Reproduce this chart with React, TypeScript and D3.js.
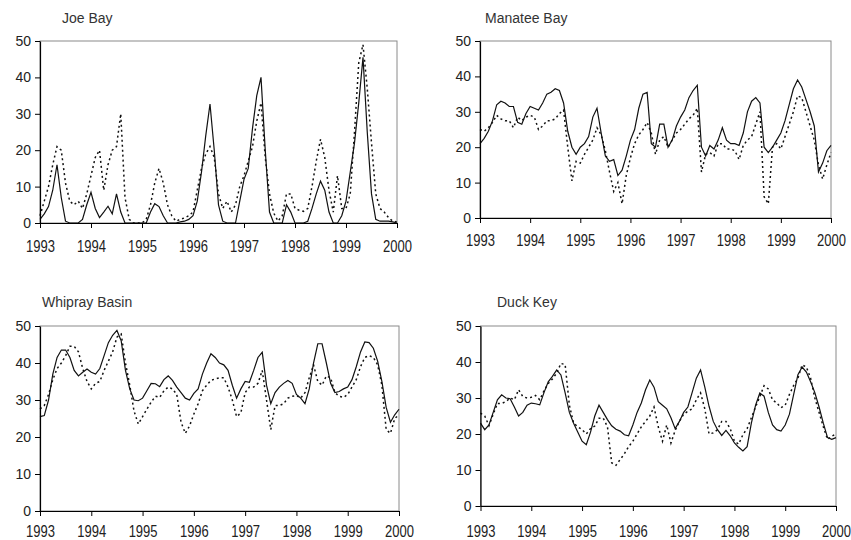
import React, { useEffect, useRef } from 'react';
import * as d3 from 'd3';

// monthly samples, Jan 1993 .. Jan 2000
const months: number[] = d3.range(85).map(i => 1993 + i / 12);
const yearTicks = [1993, 1994, 1995, 1996, 1997, 1998, 1999, 2000];
const valueTicks = [0, 10, 20, 30, 40, 50];

const joeBaySolid = [
  1, 2.5, 4.5, 9, 16, 7, 0.5, 0, 0, 0,
  1, 5, 8.4, 4, 1.5, 3, 4.6, 2.5, 8, 3,
  0, 0, 0, 0, 0, 0, 3, 5.3, 4.5, 2,
  0, 0, 0, 0.3, 0.5, 1, 2, 6, 14, 24,
  32.7, 20, 5, 0.5, 0, 0, 0, 6, 12, 15,
  26, 35, 40, 20, 3, 0, 0, 0, 5, 3,
  0, 0, 0, 0.5, 4, 8, 11.5, 9, 3, 0,
  0, 2, 6, 14, 22, 33, 45.5, 25, 8, 1,
  0.5, 0.5, 0.5, 0.3, 0,
];
const joeBayDotted = [
  2, 6, 10, 16, 21, 20, 11, 6, 5, 6,
  4, 8, 13, 18, 20, 9, 16, 20, 21, 30,
  7, 1, 0, 0, 0, 1, 5, 11, 15, 11,
  5, 2, 0.5, 1, 1.4, 2, 3, 9, 15, 19,
  21, 18, 8, 4, 6, 3, 5, 10, 13, 17,
  21, 28, 33, 18, 8, 2.7, 0.5, 2, 8, 8,
  4, 3.5, 3.2, 4, 10, 17, 23, 18, 9, 3,
  13, 4, 4, 8, 25, 44, 49, 37, 22, 8,
  4, 3, 1.5, 0.5, 0.3,
];

const manateeSolid = [
  21, 22.5, 24.5, 27.5, 32, 33, 32.5, 31.5, 31.5, 27,
  26.5, 29.5, 31.5, 31, 30.5, 32.5, 35, 35.5, 36.5, 36,
  32.5, 24.5, 20, 18, 20, 21, 23, 28.5, 31, 24,
  17.5, 16, 16.5, 12, 13.5, 17.5, 22, 25, 31, 35,
  35.5, 21, 20, 26.5, 26.5, 20, 22, 26, 28.5, 30.5,
  34, 36, 37.5, 20, 17.5, 20.5, 19.5, 22, 25.5, 22,
  21, 21, 20.5, 24, 30, 33, 34, 32.5, 20, 18.5,
  20, 22, 24, 27.5, 32, 36.5, 39, 37, 33.5, 30,
  26, 13, 15.5, 19, 20.5,
];
const manateeDotted = [
  25, 24.5, 25.5, 27, 29, 28, 27.5, 27.5, 25.5, 28.5,
  27.5, 28.5, 29, 28.5, 25, 26, 27.5, 27.5, 28, 29.5,
  30.5, 20, 10.5, 16, 15.5, 18, 20, 22, 25.5, 23.5,
  19, 13, 7.5, 10, 4, 12, 17, 21, 23.5, 25,
  27, 24, 18, 22, 23, 20, 22, 24, 25, 26.5,
  28, 29, 31, 13, 18, 18.5, 17.5, 21, 21, 19.5,
  19.5, 19, 16.5, 20.5, 22, 23, 26.5, 30, 6, 4,
  20, 21, 19.5, 23, 26.5, 30, 34.5, 34, 30, 26,
  22, 15, 11, 15, 18.5,
];

const whipraySolid = [
  25.5, 25.8, 30, 37, 41.5, 43.5, 43.5, 41.5, 38, 36.5,
  37.5, 38.4, 37.5, 37, 38.5, 42, 45.5, 47.5, 48.8, 46,
  38, 33, 30, 29.8, 30.5, 32.5, 34.5, 34.4, 33.6, 35.5,
  36.5, 35.3, 33.5, 32, 30.5, 30, 31.8, 33, 37, 40,
  42.5, 41.5, 40, 39.5, 38, 34, 30.5, 33, 35, 34.8,
  38, 41.5, 42.9, 34, 29, 32, 33.5, 34.5, 35.3, 34.5,
  31.5, 30.5, 29, 33, 40, 45.2, 45.2, 40, 34.5, 32,
  32.3, 33, 33.5, 35.5, 39, 43, 45.7, 45.5, 44, 40.5,
  35, 28, 24, 26, 27.5,
];
const whiprayDotted = [
  27.6, 28.5, 31.5, 35.5, 38.5, 40, 42, 44.5, 44.5, 43,
  38.5, 35, 33, 34.5, 35, 38, 40.5, 43, 47, 47.8,
  40, 34, 27, 23.5, 25.5, 27.5, 29.4, 31, 30.7, 32.5,
  33.5, 33, 31.5, 24, 21, 23, 26.2, 29, 32.5, 34,
  35.3, 35.7, 36, 36, 33.5, 30, 25.5, 26.5, 32, 33.5,
  33.5, 34.5, 38, 30, 22, 28.5, 28.5, 29, 30.5, 31,
  31.2, 30.5, 32, 36, 39.5, 35, 34, 36.5, 36, 32,
  31, 30.7, 31.5, 33.5, 35.5, 39, 41.5, 42, 41.5, 39.5,
  34, 22, 21, 25, 26,
];

const duckKeySolid = [
  23, 21.2, 22.5, 26, 29.5, 30.9, 30, 29.8, 27.5, 25,
  26, 28, 28.6, 28.4, 28.1, 31.5, 34.5, 36, 37.8, 36.4,
  31.4, 26, 23, 20.5, 18, 17, 20.5, 25, 28, 26,
  24, 22.3, 21.3, 20.8, 19.8, 19.5, 22.5, 26, 28.6, 32.3,
  35, 33, 29, 28, 27, 24.5, 21.5, 23.5, 26, 27.5,
  31.5, 35.5, 37.8, 33, 27.7, 23.5, 21.2, 19.6, 21, 19.5,
  17.5, 16.3, 15.3, 16.5, 23, 28, 31.4, 30.5, 26, 22.5,
  21.2, 20.8, 22.5, 25.5, 31, 36.5, 38.6, 37.2, 34.5, 31.5,
  27.5, 23, 19, 18.5, 19,
];
const duckKeyDotted = [
  25.8, 25, 22.3, 25.5, 28.5, 28.5, 29, 30, 29.5, 32.3,
  30.4, 30, 30.2, 30.7, 29.5, 32, 34, 35.3, 36.9, 39.6,
  39.3, 28, 23, 22, 21.2, 20, 21.5, 22.2, 24.4, 24.4,
  22, 12, 11.3, 12.9, 14.5, 16.5, 18, 20, 22, 23.5,
  25, 27.5, 22, 18, 22.5, 17.5, 21, 23.5, 25.5, 26.3,
  27, 29.5, 31.4, 27, 20, 20.3, 21.2, 23.5, 23.5, 21.5,
  18, 17.2, 19.8, 21.5, 24.5, 27.5, 30.4, 33.4, 32.5, 29.5,
  28.6, 27.3, 28, 31, 33.5, 35.5, 39.2, 38.6, 35.5, 30,
  26, 22, 18.5, 19.4, 20,
];

const panels = [
  { title: 'Joe Bay', solid: joeBaySolid, dotted: joeBayDotted,
    left: 40, right: 397, top: 41, bottom: 223, titleX: 62, titleY: 23, labelY: 23 },
  { title: 'Manatee Bay', solid: manateeSolid, dotted: manateeDotted,
    left: 480, right: 831, top: 41, bottom: 218, titleX: 485, titleY: 23, labelY: 21.5 },
  { title: 'Whipray Basin', solid: whipraySolid, dotted: whiprayDotted,
    left: 40, right: 399, top: 326, bottom: 511, titleX: 42, titleY: 307, labelY: 20 },
  { title: 'Duck Key', solid: duckKeySolid, dotted: duckKeyDotted,
    left: 480.5, right: 836, top: 326, bottom: 506, titleX: 497, titleY: 307, labelY: 25 },
];

const FONT = 'Arial, "Liberation Sans", sans-serif';

const App: React.FC = () => {
  const svgRef = useRef<SVGSVGElement>(null);

  useEffect(() => {
    if (!svgRef.current) return;
    const svg = d3.select(svgRef.current);
    svg.selectAll('*').remove();

    panels.forEach(p => {
      const x = d3.scaleLinear().domain([1993, 2000]).range([p.left, p.right]);
      const y = d3.scaleLinear().domain([0, 50]).range([p.bottom, p.top]);
      const g = svg.append('g');

      g.append('text')
        .attr('x', p.titleX)
        .attr('y', p.titleY)
        .attr('font-family', FONT)
        .attr('font-size', 14)
        .attr('fill', '#333')
        .text(p.title);

      // gray frame (top/right)
      g.append('rect')
        .attr('x', p.left)
        .attr('y', p.top)
        .attr('width', p.right - p.left)
        .attr('height', p.bottom - p.top)
        .attr('fill', 'none')
        .attr('stroke', '#8a8a8a')
        .attr('stroke-width', 1);

      const line = d3.line<number>()
        .x((_, i) => x(months[i]))
        .y(d => y(d));

      g.append('path')
        .datum(p.dotted)
        .attr('d', line)
        .attr('fill', 'none')
        .attr('stroke', '#111')
        .attr('stroke-width', 1.5)
        .attr('stroke-dasharray', '2,3');

      g.append('path')
        .datum(p.solid)
        .attr('d', line)
        .attr('fill', 'none')
        .attr('stroke', '#111')
        .attr('stroke-width', 1.2);

      const yAxis = g.append('g')
        .attr('transform', `translate(${p.left},0)`)
        .call(d3.axisLeft(y).tickValues(valueTicks).tickSize(5).tickSizeOuter(0).tickPadding(4));
      yAxis.select('.domain').attr('stroke', '#000');
      yAxis.selectAll('.tick line').attr('stroke', '#000');
      yAxis.selectAll('text')
        .attr('font-family', FONT)
        .attr('font-size', 14)
        .attr('fill', '#222');

      const xAxis = g.append('g')
        .attr('transform', `translate(0,${p.bottom})`)
        .call(d3.axisBottom(x).tickValues(yearTicks).tickFormat(d3.format('d')).tickSize(5).tickSizeOuter(0));
      xAxis.select('.domain').attr('stroke', '#000');
      xAxis.selectAll('.tick line').attr('stroke', '#000');
      xAxis.selectAll('text')
        .attr('y', 0)
        .attr('dy', null)
        .attr('dominant-baseline', 'central')
        .attr('transform', `translate(0,${p.labelY}) scale(1,1.3)`)
        .attr('font-family', FONT)
        .attr('font-size', 13)
        .attr('fill', '#222');
      g.selectAll('.domain').attr('stroke-width', 1.2);
    });
  }, []);

  return (
    <svg
      ref={svgRef}
      width={851}
      height={540}
      style={{ position: 'absolute', left: 0, top: 0, background: '#fff' }}
    />
  );
};

export default App;
